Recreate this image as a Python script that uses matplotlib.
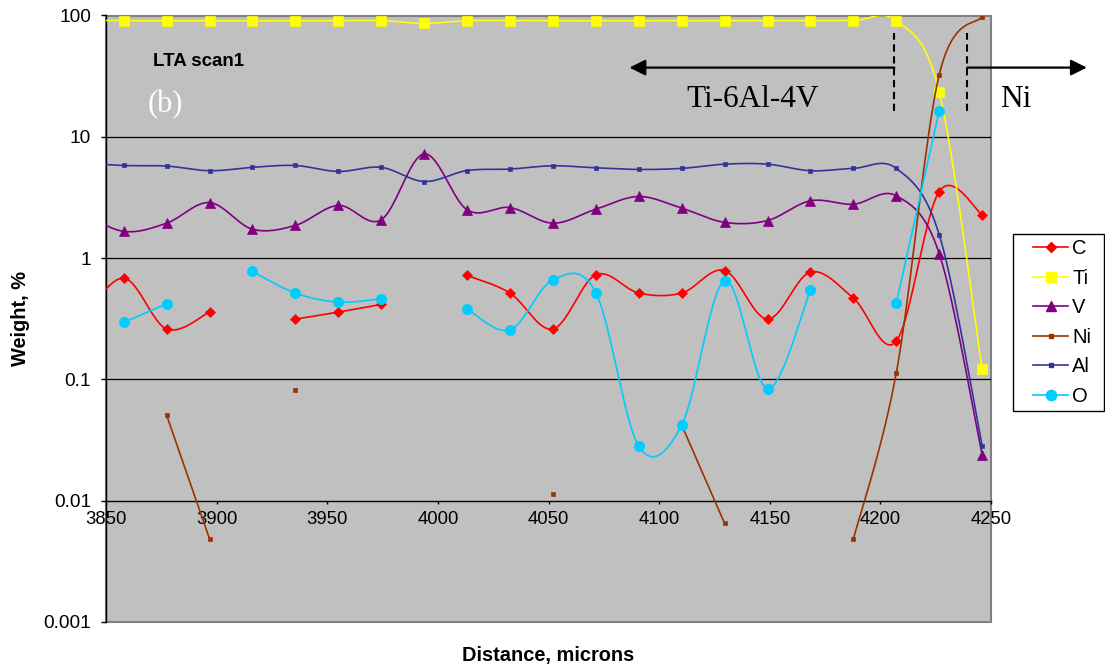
import numpy as np
import matplotlib
matplotlib.use("Agg")
import matplotlib.pyplot as plt
from matplotlib import ticker
from matplotlib.lines import Line2D
from matplotlib.legend_handler import HandlerLine2D

nan = np.nan

# ---------------- data ----------------
distance = [3838.6, 3858.0, 3877.4, 3896.8, 3916.2, 3935.6, 3955.0, 3974.4, 3993.8,
            4013.2, 4032.6, 4052.0, 4071.4, 4090.8, 4110.2, 4129.6, 4149.0, 4168.4,
            4187.8, 4207.2, 4226.6, 4246.0]

C_wt = [0.30, 0.684, 0.26, 0.359, nan, 0.314, 0.359, 0.415, nan, 0.72, 0.515, 0.26,
        0.729, 0.515, 0.515, 0.79, 0.314, 0.767, 0.468, 0.207, 3.54, 2.28]
Ti_wt = [91.0, 90.6, 90.6, 90.6, 90.6, 90.6, 90.6, 90.6, 86.3, 90.6, 90.6, 90.6,
         90.6, 90.6, 90.6, 90.6, 90.6, 90.6, 90.6, 90.6, 23.4, 0.121]
V_wt = [2.4, 1.66, 1.94, 2.87, 1.73, 1.86, 2.72, 2.07, 7.23, 2.5, 2.61, 1.94,
        2.53, 3.22, 2.58, 1.97, 2.04, 2.97, 2.78, 3.26, 1.09, 0.024]
Ni_wt = [nan, nan, 0.0507, 0.00485, nan, 0.0816, nan, nan, nan, nan, nan, 0.0114,
         nan, nan, 0.042, 0.0065, nan, nan, 0.00482, 0.1135, 32.5, 98.0]
Al_wt = [6.1, 5.8, 5.74, 5.25, 5.6, 5.8, 5.18, 5.6, 4.28, 5.27, 5.42, 5.77,
         5.55, 5.38, 5.49, 5.95, 5.95, 5.25, 5.49, 5.49, 1.56, 0.0285]
O_wt = [nan, 0.295, 0.42, nan, 0.776, 0.515, 0.434, 0.462, nan, 0.38, 0.256, 0.663,
        0.52, 0.0281, 0.042, 0.65, 0.0837, 0.548, nan, 0.426, 16.4, nan]

series_names = ["C", "Ti", "V", "Ni", "Al", "O"]
x_ticks = [3850, 3900, 3950, 4000, 4050, 4100, 4150, 4200, 4250]
y_ticks = [0.001, 0.01, 0.1, 1, 10, 100]
grid_levels = [0.1, 1, 10]

# annotation geometry (data coordinates)
boundary_left = 4206.3
boundary_right = 4239.3
dash_range = (16.3, 71.8)
arrow_y = 37.2
arrow_left_tip = 4086.6
arrow_right_tip = 4293.3

# ---------------- style ----------------
styles = {
    "C":  dict(color="#FF0000", marker="D", ms=5.4),
    "Ti": dict(color="#FFFF00", marker="s", ms=6.8),
    "V":  dict(color="#800080", marker="^", ms=7.4),
    "Ni": dict(color="#993300", marker="s", ms=2.6),
    "Al": dict(color="#333399", marker="s", ms=2.6),
    "O":  dict(color="#00CCFF", marker="o", ms=7.4),
}
data_map = {"C": C_wt, "Ti": Ti_wt, "V": V_wt, "Ni": Ni_wt, "Al": Al_wt, "O": O_wt}

plt.rcParams["font.family"] = ["Liberation Sans", "DejaVu Sans"]

W, H = 1105, 671
fig = plt.figure(figsize=(W / 100, H / 100), dpi=100)
L, R, T, B = 106, 991, 15.5, 622
ax = fig.add_axes([L / W, 1 - B / H, (R - L) / W, (B - T) / H])
ax.set_yscale("log")
ax.set_xlim(3850, 4250)
ax.set_ylim(0.001, 100)
ax.patch.set_facecolor("#C0C0C0")
ax.patch.set_edgecolor("#808080")
ax.patch.set_linewidth(1.5)

for s in ["top", "right"]:
    ax.spines[s].set_visible(False)
ax.spines["left"].set_color("black")
ax.spines["left"].set_linewidth(1.0)
ax.spines["bottom"].set_position(("data", 0.01))
ax.spines["bottom"].set_color("black")
ax.spines["bottom"].set_linewidth(1.0)

for g in grid_levels:
    ax.axhline(g, color="black", lw=0.9, zorder=1)


def catmull(xs, ys, n=40):
    xs = np.asarray(xs, float)
    ys = np.asarray(ys, float)
    outx, outy = [], []
    m = len(xs)
    for i in range(m - 1):
        p0 = (xs[max(i - 1, 0)], ys[max(i - 1, 0)])
        p1 = (xs[i], ys[i])
        p2 = (xs[i + 1], ys[i + 1])
        p3 = (xs[min(i + 2, m - 1)], ys[min(i + 2, m - 1)])
        c1 = (p1[0] + (p2[0] - p0[0]) / 6, p1[1] + (p2[1] - p0[1]) / 6)
        c2 = (p2[0] - (p3[0] - p1[0]) / 6, p2[1] - (p3[1] - p1[1]) / 6)
        t = np.linspace(0, 1, n)
        bx = (1 - t) ** 3 * p1[0] + 3 * (1 - t) ** 2 * t * c1[0] + 3 * (1 - t) * t ** 2 * c2[0] + t ** 3 * p2[0]
        by = (1 - t) ** 3 * p1[1] + 3 * (1 - t) ** 2 * t * c1[1] + 3 * (1 - t) * t ** 2 * c2[1] + t ** 3 * p2[1]
        outx.extend(bx)
        outy.extend(by)
    return np.array(outx), np.array(outy)


xarr = np.array(distance)
for z, name in enumerate(series_names):
    st = styles[name]
    y = np.array(data_map[name], float)
    ok = np.isfinite(y)
    runs, cur = [], []
    for i in range(len(y)):
        if ok[i]:
            cur.append(i)
        else:
            if cur:
                runs.append(cur)
            cur = []
    if cur:
        runs.append(cur)
    for r in runs:
        if len(r) < 2:
            continue
        sx, sy = catmull(xarr[r], np.log10(y[r]))
        ax.plot(sx, 10 ** sy, color=st["color"], lw=1.2, zorder=3 + z, solid_capstyle="round")
    ax.plot(xarr[ok], y[ok], linestyle="none", marker=st["marker"], ms=st["ms"],
            color=st["color"], mec=st["color"], mew=0.5, zorder=3.5 + z)

# axes ticks
ax.xaxis.set_major_locator(ticker.FixedLocator(x_ticks))
ax.xaxis.set_major_formatter(ticker.FuncFormatter(lambda v, _: f"{v:.0f}"))
ax.yaxis.set_major_locator(ticker.FixedLocator(y_ticks))
ax.yaxis.set_minor_locator(ticker.NullLocator())
ax.yaxis.set_major_formatter(ticker.FuncFormatter(lambda v, _: f"{v:g}"))
ax.tick_params(axis="x", direction="out", length=2.5, width=1, labelsize=13.3, pad=5)
ax.tick_params(axis="y", direction="out", length=3.8, width=1, labelsize=13.8, pad=7)

# axis titles
fig.text(548.5 / W, 1 - 655 / H, "Distance, microns", ha="center", va="center",
         fontsize=14.4, fontweight="bold")
fig.text(20 / W, 1 - 319 / H, "Weight, %", ha="center", va="center", rotation=90,
         fontsize=14.4, fontweight="bold")

# annotations
ax.text(3871.2, 41.4, "LTA scan1", ha="left", va="center", fontsize=13.5, fontweight="bold")
ax.text(3876.9, 18.3, "(b)", ha="center", va="center", fontsize=22, color="white",
        family=["Liberation Serif", "DejaVu Serif"])
ax.text(4142.4, 17.6, "Ti-6Al-4V", ha="center", va="baseline", fontsize=22.5,
        family=["Liberation Serif", "DejaVu Serif"])
ax.text(4261.3, 17.6, "Ni", ha="center", va="baseline", fontsize=22.5,
        family=["Liberation Serif", "DejaVu Serif"], clip_on=False)

for bx in (boundary_left, boundary_right):
    ax.plot([bx, bx], list(dash_range), color="black", lw=1.5, dashes=(3.5, 2.2), zorder=20)

arrow_kw = dict(arrowstyle="-|>", lw=1.6, color="black", mutation_scale=24,
                shrinkA=0, shrinkB=0)
ax.annotate("", xy=(arrow_left_tip, arrow_y), xytext=(boundary_left, arrow_y),
            arrowprops=arrow_kw, annotation_clip=False, zorder=20)
ax.annotate("", xy=(arrow_right_tip, arrow_y), xytext=(boundary_right, arrow_y),
            arrowprops=arrow_kw, annotation_clip=False, zorder=20)

# legend
handles = [Line2D([], [], color=styles[n]["color"], marker=styles[n]["marker"],
                  ms=styles[n]["ms"], lw=1.2, mec=styles[n]["color"]) for n in series_names]
fs = 14.5
fpx = fs * 100 / 72
leg = fig.legend(handles, series_names, loc="upper left",
                 bbox_to_anchor=(1013 / W, 1 - 234.7 / H, 91 / W, 0.001),
                 mode="expand", fontsize=fs, frameon=True, fancybox=False,
                 edgecolor="black", framealpha=1, borderpad=0.26, labelspacing=0.52,
                 handlelength=50 / fpx, handletextpad=4 / fpx, borderaxespad=0,
                 handler_map={Line2D: HandlerLine2D(xpad=15 / fpx)})
leg.get_frame().set_linewidth(1.0)

fig.savefig("out.png", dpi=100)
